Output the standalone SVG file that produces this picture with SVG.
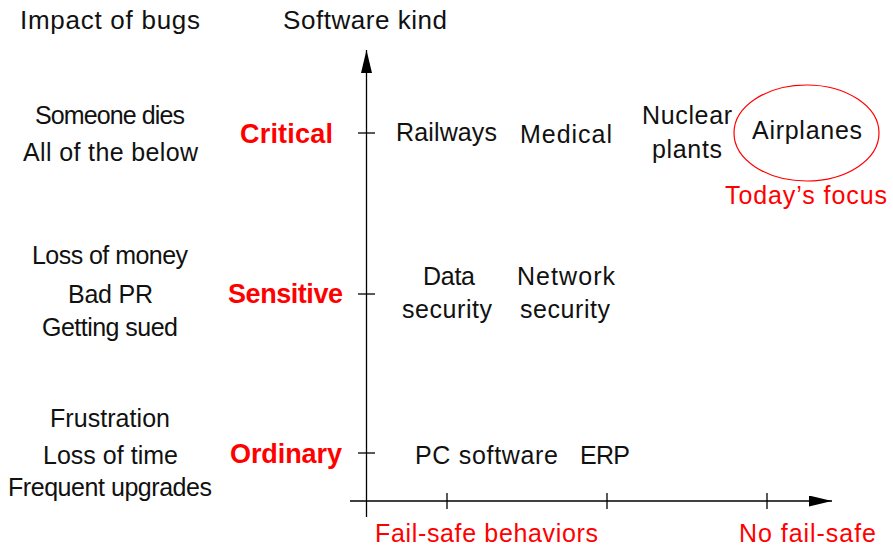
<svg xmlns="http://www.w3.org/2000/svg" width="893" height="546" viewBox="0 0 893 546">
  <style>
    text { font-family: "Liberation Sans", Arial, sans-serif; font-size: 25px; fill: #111; text-anchor: middle; }
    .title { font-size: 26px; }
    .level { font-weight: bold; font-size: 27px; fill: #ff0000; text-anchor: end; }
    .note { fill: #ff0000; }
    .axis { stroke: #000; stroke-width: 1.3; fill: none; }
    .focus { stroke: #ff0000; stroke-width: 1.2; fill: none; }
  </style>
  <defs>
    <marker id="arrow" markerUnits="userSpaceOnUse" markerWidth="24" markerHeight="12" refX="23" refY="5.5" orient="auto">
      <path d="M0,0 L23,5.5 L0,11 Z" fill="#000"/>
    </marker>
  </defs>
  <rect width="893" height="546" fill="#fff"/>

  <!-- axes and tick marks -->
  <g id="connectors">
    <line class="axis" x1="366.5" y1="517" x2="366.5" y2="50" marker-end="url(#arrow)"/>
    <line class="axis" x1="350" y1="501" x2="832" y2="501" marker-end="url(#arrow)"/>
    <line class="axis" x1="358" y1="133" x2="375" y2="133"/>
    <line class="axis" x1="358" y1="294" x2="375" y2="294"/>
    <line class="axis" x1="358" y1="453" x2="375" y2="453"/>
    <line class="axis" x1="447" y1="493" x2="447" y2="509"/>
    <line class="axis" x1="607" y1="493" x2="607" y2="509"/>
    <line class="axis" x1="767" y1="493" x2="767" y2="509"/>
  </g>

  <!-- column headings -->
  <g id="heading-impact"><text class="title" x="110" y="29" textLength="180">Impact of bugs</text></g>
  <g id="heading-kind"><text class="title" x="365" y="29" textLength="164">Software kind</text></g>

  <!-- impact descriptions -->
  <g id="impact-critical">
    <text x="110" y="124" textLength="150">Someone dies</text>
    <text x="110.5" y="161" textLength="175">All of the below</text>
  </g>
  <g id="impact-sensitive">
    <text x="110" y="264" textLength="156">Loss of money</text>
    <text x="110.5" y="303" textLength="85">Bad PR</text>
    <text x="110" y="336" textLength="136">Getting sued</text>
  </g>
  <g id="impact-ordinary">
    <text x="110" y="427" textLength="120">Frustration</text>
    <text x="110.5" y="464" textLength="135">Loss of time</text>
    <text x="110" y="496" textLength="204">Frequent upgrades</text>
  </g>

  <!-- criticality levels -->
  <g id="level-critical"><text class="level" x="333" y="143" textLength="93">Critical</text></g>
  <g id="level-sensitive"><text class="level" x="343" y="303" textLength="115">Sensitive</text></g>
  <g id="level-ordinary"><text class="level" x="342" y="463" textLength="112">Ordinary</text></g>

  <!-- software kinds -->
  <g id="railways"><text x="446.5" y="141" textLength="101">Railways</text></g>
  <g id="medical"><text x="566" y="143" textLength="92">Medical</text></g>
  <g id="nuclear-plants">
    <text x="687" y="124" textLength="90">Nuclear</text>
    <text x="687" y="158" textLength="70">plants</text>
  </g>
  <g id="airplanes">
    <ellipse class="focus" cx="806.5" cy="133" rx="72.5" ry="48"/>
    <text x="807" y="139" textLength="110">Airplanes</text>
  </g>
  <g id="todays-focus"><text class="note" x="806" y="204" textLength="162">Today’s focus</text></g>
  <g id="data-security">
    <text x="449" y="285" textLength="52">Data</text>
    <text x="447" y="318" textLength="90">security</text>
  </g>
  <g id="network-security">
    <text x="566" y="285" textLength="98">Network</text>
    <text x="565" y="318" textLength="90">security</text>
  </g>
  <g id="pc-software"><text x="486.5" y="464" textLength="143">PC software</text></g>
  <g id="erp"><text x="605" y="464" textLength="50">ERP</text></g>

  <!-- horizontal axis labels -->
  <g id="fail-safe"><text class="note" x="486.5" y="542" textLength="223">Fail-safe behaviors</text></g>
  <g id="no-fail-safe"><text class="note" x="807.5" y="542" textLength="137">No fail-safe</text></g>
</svg>
